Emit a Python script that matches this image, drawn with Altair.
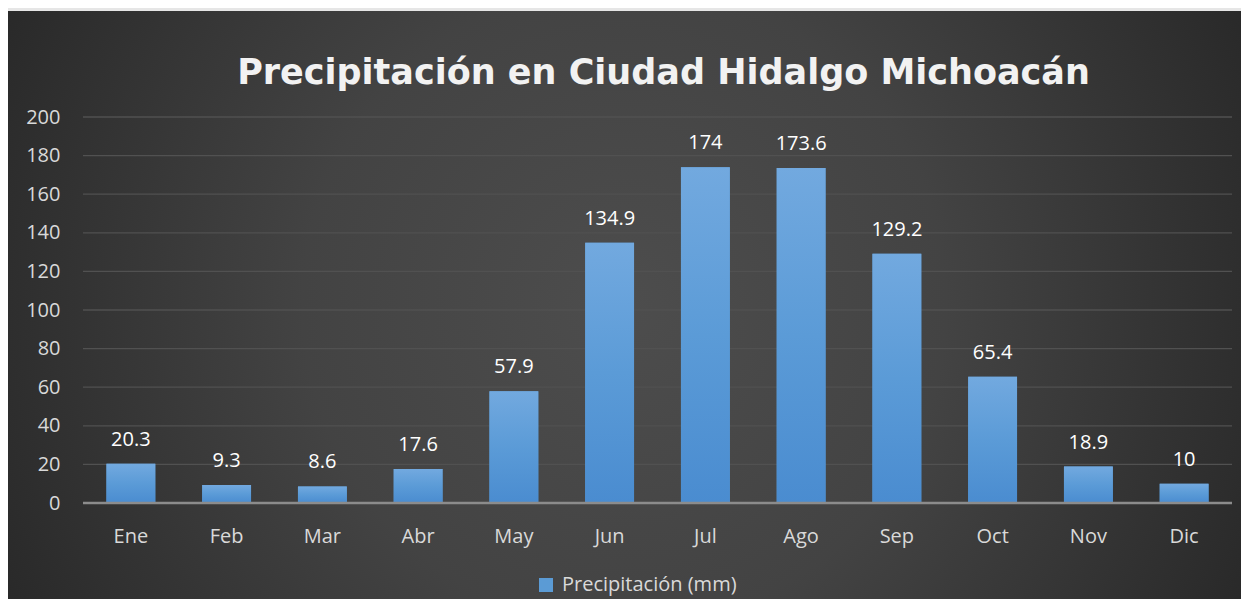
import altair as alt
import pandas as pd

# ---- data ----
meses = ["Ene", "Feb", "Mar", "Abr", "May", "Jun", "Jul", "Ago", "Sep", "Oct", "Nov", "Dic"]
precip = [20.3, 9.3, 8.6, 17.6, 57.9, 134.9, 174, 173.6, 129.2, 65.4, 18.9, 10]
etiquetas = ["20.3", "9.3", "8.6", "17.6", "57.9", "134.9", "174", "173.6", "129.2", "65.4", "18.9", "10"]
serie = "Precipitación (mm)"
y_ticks = [0, 20, 40, 60, 80, 100, 120, 140, 160, 180, 200]
titulo = "Precipitación en Ciudad Hidalgo Michoacán"

df = pd.DataFrame({"mes": meses, "valor": precip, "etiqueta": etiquetas, "serie": [serie] * len(meses)})
grid_df = pd.DataFrame({"valor": y_ticks[1:]})
base_df = pd.DataFrame({"valor": [0]})
bg_df = pd.DataFrame({"k": [0]})

# ---- layout ----
W, H = 1149, 386
PL, PT, PR, PB = 75, 109, 9, 96
FONT = "Open Sans"
LABEL = "#d9d9d9"

yscale = alt.Scale(domain=[0, 200], nice=False, zero=True)
xscale = alt.Scale(domain=meses, paddingInner=0.49, paddingOuter=0.245)

y_axis = alt.Axis(title=None, values=y_ticks, tickCount=11, grid=False, domain=False, ticks=False,
                  labelPadding=23, labelFontSize=20, labelColor=LABEL, labelFont=FONT,
                  labelOverlap=False, labelSeparation=0, zindex=1)
x_axis = alt.Axis(title=None, labelAngle=0, domain=False, ticks=False, grid=False,
                  labelPadding=39, labelBaseline="alphabetic", labelFontSize=20,
                  labelColor=LABEL, labelFont=FONT, labelOverlap=False, zindex=1)

y_enc = alt.Y("valor:Q", scale=yscale, axis=y_axis)
x_enc = alt.X("mes:N", sort=meses, scale=xscale, axis=x_axis)

bg = alt.Chart(bg_df).mark_rect(
    clip=False,
    fill=alt.RadialGradient(
        gradient="radial",
        stops=[
            alt.GradientStop(color="#4d4d4d", offset=0),
            alt.GradientStop(color="#434343", offset=0.45),
            alt.GradientStop(color="#272727", offset=1),
        ],
        x1=0.5, y1=0.5, r1=0, x2=0.5, y2=0.5, r2=0.58,
    ),
).encode(
    x=alt.value(-PL), x2=alt.value(W + PR), y=alt.value(-PT + 3), y2=alt.value(H + PB)
)

grid = alt.Chart(grid_df).mark_rule(color="#515151", strokeWidth=1.3).encode(
    y=y_enc, x=alt.value(0), x2=alt.value(W),
)

legend_bars = alt.Chart(df).mark_bar().encode(
    x=x_enc, y=y_enc,
    color=alt.Color(
        "serie:N", scale=alt.Scale(range=["#5b9bd5"]),
        legend=alt.Legend(title=None, orient="none", legendX=453, legendY=458,
                          symbolType="square", symbolSize=196, symbolStrokeWidth=0,
                          labelFontSize=20, labelColor=LABEL, labelFont=FONT,
                          labelOffset=6, labelLimit=400, padding=0),
    ),
)

bars = alt.Chart(df).mark_bar(
    fill=alt.LinearGradient(
        gradient="linear",
        stops=[alt.GradientStop(color="#72a9df", offset=0),
               alt.GradientStop(color="#5b9bd7", offset=0.5),
               alt.GradientStop(color="#4a8cd0", offset=1)],
        x1=0, x2=0, y1=0, y2=1,
    )
).encode(x=x_enc, y=y_enc)

base = alt.Chart(base_df).mark_rule(color="#8c8c8c", strokeWidth=2.5).encode(
    y=y_enc, x=alt.value(0), x2=alt.value(W)
)

text = alt.Chart(df).mark_text(
    dy=-18, baseline="alphabetic", fontSize=20, font=FONT, color="#ffffff"
).encode(x=x_enc, y=y_enc, text="etiqueta:N")

chart = alt.layer(bg, grid, legend_bars, bars, base, text).properties(
    width=W, height=H,
    padding={"left": PL, "top": PT, "right": PR, "bottom": PB},
    autosize=alt.AutoSizeParams(type="none"),
    background="#e6e6e6",
    title=alt.TitleParams(text=titulo, font="DejaVu Sans", fontSize=35, fontWeight="bold",
                          color="#f2f2f2", anchor="middle", dx=6, offset=22, dy=130,
                          baseline="alphabetic"),
).configure_view(strokeWidth=0).configure_axis(labelOverlap=False)

chart.save("out.html", embed_options={"renderer": "svg", "actions": False})
